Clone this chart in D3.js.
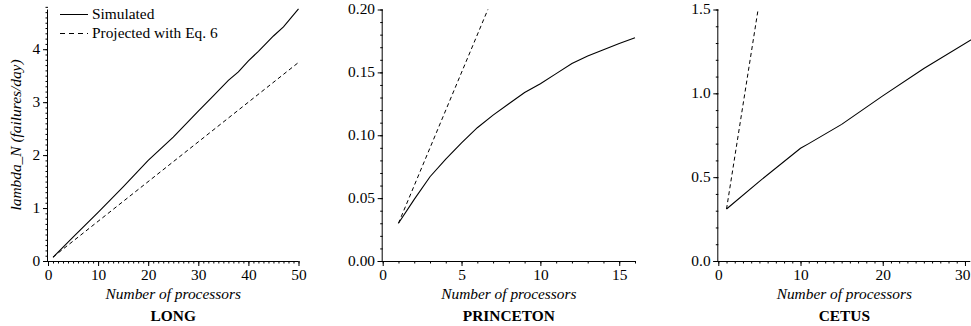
<!DOCTYPE html>
<html>
<head>
<meta charset="utf-8">
<script src="https://cdn.jsdelivr.net/npm/d3@7"></script>
<style>
  body { margin: 0; background: #fff; }
  svg { display: block; }
  .axis text, .lbl { font-family: "Liberation Serif", "Times New Roman", Times, serif; font-size: 14px; fill: #000; }
  .axis path, .axis line { stroke: #000; stroke-width: 1px; }
</style>
</head>
<body>
<div id="chart"></div>
<script>
// --- data ---
const longSimN   = [1, 5, 10, 15, 20, 25, 30, 33, 36, 38, 40, 42, 45, 47, 50];
const longSimY   = [0.07, 0.45, 0.92, 1.40, 1.90, 2.34, 2.83, 3.12, 3.41, 3.57, 3.78, 3.96, 4.25, 4.42, 4.76];
const longProjN  = [1, 50];
const longProjY  = [0.075, 3.75];

const princSimN  = [1, 2, 3, 4, 5, 6, 7, 8, 9, 10, 11, 12, 13, 14, 15, 16];
const princSimY  = [0.030, 0.049, 0.067, 0.081, 0.094, 0.106, 0.116, 0.125, 0.134, 0.141, 0.149, 0.157, 0.163, 0.168, 0.173, 0.1775];
const princProjN = [1, 6.67];
const princProjY = [0.030, 0.200];

const cetusSimN  = [1, 5, 10, 11, 15, 20, 25, 31];
const cetusSimY  = [0.31, 0.475, 0.672, 0.70, 0.815, 0.985, 1.148, 1.327];
const cetusProjN = [1, 4.84];
const cetusProjY = [0.31, 1.50];

const titles   = ["LONG", "PRINCETON", "CETUS"];
const xLabel   = "Number of processors";
const yLabel   = "lambda_N (failures/day)";
const legendLabels = ["Simulated", "Projected with Eq. 6"];

const panels = [
  { title: titles[0], sim: [longSimN, longSimY], proj: [longProjN, longProjY],
    xDom: [0, 50], yDom: [0, 4.75], xMajor: [0, 10, 20, 30, 40, 50], xMinor: 1,
    yMajor: [0, 1, 2, 3, 4], yMinor: 0.1, yFmt: d3.format("d"),
    left: 48, right: 298.5 },
  { title: titles[1], sim: [princSimN, princSimY], proj: [princProjN, princProjY],
    xDom: [0, 16], yDom: [0, 0.2], xMajor: [0, 5, 10, 15], xMinor: 1,
    yMajor: [0, 0.05, 0.1, 0.15, 0.2], yMinor: 0.01, yFmt: d3.format(".2f"),
    left: 382.7, right: 635 },
  { title: titles[2], sim: [cetusSimN, cetusSimY], proj: [cetusProjN, cetusProjY],
    xDom: [0, 30.65], yDom: [0, 1.5], xMajor: [0, 10, 20, 30], xMinor: 1,
    yMajor: [0, 0.5, 1, 1.5], yMinor: 0.1, yFmt: d3.format(".1f"),
    left: 718.3, right: 970.3 }
];

const W = 971, H = 326;
const plotBottom = 261, plotTop = 9.5;
const stretch = 1.1;   // the original typeface runs a bit wider than Times

const svg = d3.select("#chart").append("svg")
  .attr("width", W).attr("height", H);

function range(a, b, step) {
  const out = [];
  const n = Math.round((b - a) / step);
  for (let i = 0; i <= n; i++) out.push(+(a + i * step).toFixed(6));
  return out;
}

panels.forEach((p, i) => {
  const x = d3.scaleLinear().domain(p.xDom).range([p.left, p.right]);
  const y = d3.scaleLinear().domain(p.yDom).range([plotBottom, plotTop]);
  const g = svg.append("g");

  // minor ticks
  g.append("g").attr("class", "axis")
    .attr("transform", `translate(0,${plotBottom})`)
    .call(d3.axisBottom(x).tickValues(range(p.xDom[0], Math.floor(p.xDom[1]), p.xMinor))
      .tickSize(2.5).tickFormat(""))
    .call(s => s.select(".domain").remove());
  g.append("g").attr("class", "axis")
    .attr("transform", `translate(${p.left},0)`)
    .call(d3.axisLeft(y).tickValues(range(p.yDom[0], p.yDom[1], p.yMinor))
      .tickSize(2.5).tickFormat(""))
    .call(s => s.select(".domain").remove());

  // major ticks + labels
  g.append("g").attr("class", "axis")
    .attr("transform", `translate(0,${plotBottom})`)
    .call(d3.axisBottom(x).tickValues(p.xMajor).tickSize(5).tickSizeOuter(0).tickPadding(4))
    .call(s => s.select(".domain").attr("d", `M${p.left - 5},0.5H${p.right}`))
    .call(s => s.selectAll(".tick text").attr("transform", `scale(${stretch},1)`));
  g.append("g").attr("class", "axis")
    .attr("transform", `translate(${p.left},0)`)
    .call(d3.axisLeft(y).tickValues(p.yMajor).tickFormat(p.yFmt).tickSize(5).tickSizeOuter(0).tickPadding(2))
    .call(s => s.select(".domain").attr("d", `M-0.5,${plotTop}V${plotBottom}`))
    .call(s => s.selectAll(".tick text").attr("transform", `scale(${stretch},1)`));

  // lines
  const line = d3.line().x(d => x(d[0])).y(d => y(d[1]));
  g.append("path")
    .datum(p.proj[0].map((n, k) => [n, p.proj[1][k]]))
    .attr("d", line).attr("fill", "none").attr("stroke", "#000")
    .attr("stroke-width", 1).attr("stroke-dasharray", "4,3");
  g.append("path")
    .datum(p.sim[0].map((n, k) => [n, p.sim[1][k]]))
    .attr("d", line).attr("fill", "none").attr("stroke", "#000")
    .attr("stroke-width", 1.1);

  // labels
  const cx = (p.left + p.right) / 2;
  g.append("text").attr("class", "lbl")
    .attr("transform", `translate(${cx},298.5) scale(${stretch},1)`)
    .attr("text-anchor", "middle")
    .style("font-style", "italic").text(xLabel);
  g.append("text").attr("class", "lbl")
    .attr("transform", `translate(${cx},321) scale(${stretch},1)`)
    .attr("text-anchor", "middle")
    .style("font-weight", "bold").text(p.title);
});

// keep the rightmost tick label inside the page
svg.selectAll(".tick text").each(function () {
  const r = this.getBoundingClientRect();
  if (r.right > W) d3.select(this).attr("dx", -(r.right - W + 0.5) / stretch);
});

// y label on the first panel
svg.append("text").attr("class", "lbl")
  .attr("transform", `translate(21,135) rotate(-90) scale(${stretch},1)`)
  .attr("text-anchor", "middle").style("font-style", "italic")
  .text(yLabel);

// legend
const leg = svg.append("g");
legendLabels.forEach((t, i) => {
  const ly = 14.5 + i * 19;
  leg.append("line").attr("x1", 60).attr("x2", 88).attr("y1", ly).attr("y2", ly)
    .attr("stroke", "#000").attr("stroke-width", 1)
    .attr("stroke-dasharray", i === 1 ? "5,4" : null);
  leg.append("text").attr("class", "lbl")
    .attr("transform", `translate(92,${ly + 4.5}) scale(${stretch},1)`).text(t);
});
</script>
</body>
</html>
